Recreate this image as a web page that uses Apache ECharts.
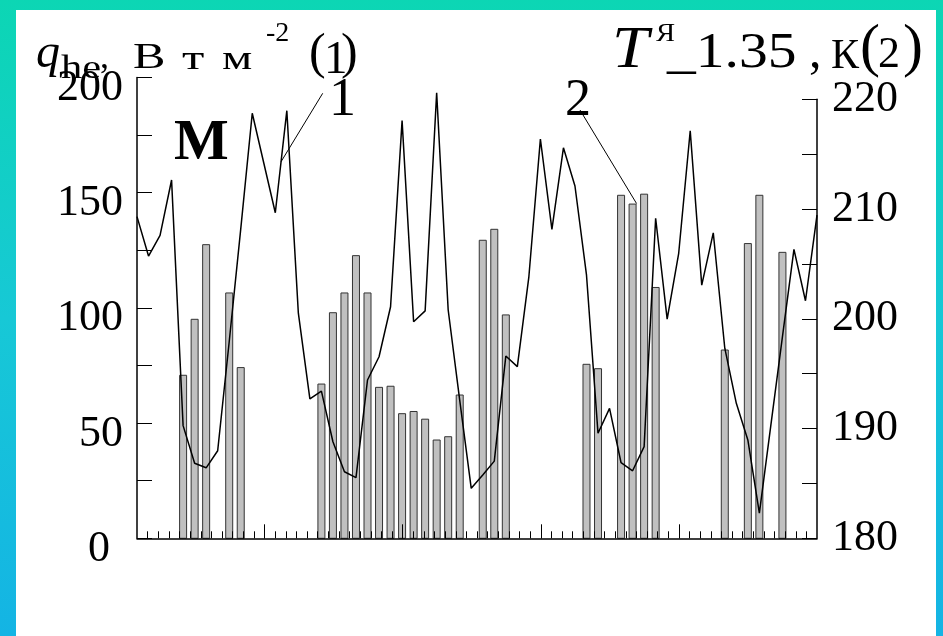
<!DOCTYPE html>
<html>
<head>
<meta charset="utf-8">
<script src="https://cdn.jsdelivr.net/npm/echarts@6/dist/echarts.min.js"></script>
<style>
html,body{margin:0;padding:0;background:#fff;}
#chart{width:943px;height:636px;}
</style>
</head>
<body>
<div id="chart"></div>
<script>
// ---- data ----
const categories = [1,2,3,4,5,6,7,8,9,10,11,12,13,14,15,16,17,18,19,20,21,22,23,24,25,26,27,28,29,30,
  31,32,33,34,35,36,37,38,39,40,41,42,43,44,45,46,47,48,49,50,51,52,53,54,55,56,57,58,59,60];
// series (1): heat flux q_he, W m^-2 (left axis)
const qHe = [139.6,122.5,131.5,155.5,48.9,32.6,30.6,38.0,85.3,134.2,
  184.5,162.9,141.3,185.6,97.7,60.5,63.9,41.9,28.9,26.3,
  68.7,78.8,100.5,181.3,94.0,98.7,193.4,99.1,60.0,21.7,
  27.5,33.5,79.1,74.5,113.5,173.3,134.1,169.5,152.9,114.3,
  45.6,56.4,32.8,29.3,39.8,138.9,95.1,123.7,176.9,109.9,
  132.6,82.5,58.6,42.7,10.9,49.2,87.4,125.4,103.1,140.3];
// series (2): temperature T, K (right axis); null = no bar
const tempT = [null,null,null,null,194.9,200.0,206.8,null,202.4,195.6,
  null,null,null,null,null,null,194.1,200.6,202.4,205.8,
  202.4,193.8,193.9,191.4,191.6,190.9,189.0,189.3,193.1,null,
  207.2,208.2,200.4,null,null,null,null,null,null,195.9,
  195.5,null,211.3,210.5,211.4,202.9,null,null,null,null,
  null,197.2,null,206.9,211.3,null,206.1,null,null,null];
const leftTicks = [0,50,100,150,200];
const rightTicks = [180,190,200,210,220];
const bottomMinorTicks = [1,2,3,4,5,6,7,8,9,10,11,12,13,14,15,16,17,18,19,20,21,22,23,24,25,26,27,28,29,30,31,32,
  33,34,35,36,37,38,39,40,41,42,43,44,45,46,47,48,49,50,51,52,53,54,55,56,57,58,59,60,61,62,63];
const bottomMajorTicks = [12,25,38,51];

const FONT = '"Liberation Serif","Times New Roman",serif';
const chart = echarts.init(document.getElementById('chart'), null, {renderer:'canvas'});

const G = {left:137, right:126, bottom:97.7, top:77.5};
const MINOR_LEN = 7, MAJOR_LEN = 14;

function tickAxis(gridIndex, values, len){
  return {type:'value', gridIndex:gridIndex, position:'bottom', min:0, max:64, z:5,
    axisLine:{show:false, onZero:false},
    axisTick:{show:true, inside:false, length:len, customValues:values, lineStyle:{color:'#000', width:1}},
    axisLabel:{show:false}, splitLine:{show:false}};
}

chart.setOption({
  animation:false,
  backgroundColor:'transparent',
  grid:[
    {left:G.left, right:G.right, top:G.top, bottom:G.bottom},
    {left:G.left, right:G.right, top:99.3, bottom:G.bottom},
    {left:G.left, right:G.right, top:G.top, bottom:G.bottom},
    {left:G.left, right:G.right, top:G.top, bottom:G.bottom + MINOR_LEN},
    {left:G.left, right:G.right, top:G.top, bottom:G.bottom + MAJOR_LEN}
  ],
  xAxis:[
    {type:'category', gridIndex:0, data:categories, boundaryGap:false, show:false},
    {type:'category', gridIndex:1, data:categories, boundaryGap:false, show:false},
    {type:'value', gridIndex:2, position:'bottom', min:0, max:64, z:5,
      axisLine:{show:true, onZero:false, lineStyle:{color:'#000', width:1.5}},
      axisTick:{show:false}, axisLabel:{show:false}, splitLine:{show:false}},
    tickAxis(3, bottomMinorTicks, MINOR_LEN),
    tickAxis(4, bottomMajorTicks, MAJOR_LEN)
  ],
  yAxis:[
    {type:'value', gridIndex:0, position:'left', min:0, max:200, interval:25, z:5,
      axisLine:{show:true, lineStyle:{color:'#000', width:1.5}},
      axisTick:{show:true, inside:true, length:15, lineStyle:{color:'#000', width:1}},
      splitLine:{show:false},
      axisLabel:{show:true, margin:14, color:'#000', fontFamily:FONT, fontSize:44, padding:[22,0,0,0],
        formatter:function(v){ if(leftTicks.indexOf(v)<0) return ''; return v===0 ? '{z|0}' : String(v); },
        rich:{z:{fontFamily:FONT, fontSize:44, color:'#000', padding:[0,13,0,0]}}}
    },
    {type:'value', gridIndex:1, position:'right', min:180, max:220, interval:5, z:5,
      axisLine:{show:true, lineStyle:{color:'#000', width:1.5}},
      axisTick:{show:true, inside:true, length:15, lineStyle:{color:'#000', width:1}},
      splitLine:{show:false},
      axisLabel:{show:true, margin:15, color:'#000', fontFamily:FONT, fontSize:44, padding:[22,0,0,0],
        formatter:function(v){ return rightTicks.indexOf(v)<0 ? '' : String(v); }}
    },
    {type:'value', gridIndex:2, min:0, max:1, show:false},
    {type:'value', gridIndex:3, min:0, max:1, show:false},
    {type:'value', gridIndex:4, min:0, max:1, show:false}
  ],
  series:[
    {name:'T', type:'bar', xAxisIndex:1, yAxisIndex:1, data:tempT, barWidth:8, clip:true, z:2,
      itemStyle:{color:'#c0c0c0', borderColor:'#333', borderWidth:1}},
    {name:'q_he', type:'line', xAxisIndex:0, yAxisIndex:0, data:qHe, symbol:'none', z:4,
      lineStyle:{color:'#000', width:1.5}}
  ]
});

function piece(text, x, baseline, size, opt){
  opt = opt || {};
  return {type:'text', x:x, y:baseline + 4 - 0.3375*size, scaleX:opt.sx||1, z:50,
    style:{text:text, fontFamily:FONT, fontSize:size, fontStyle:opt.italic?'italic':'normal',
      fontWeight:opt.bold?'bold':'normal', fill:'#000', align:'left', verticalAlign:'middle'}};
}

const pA = chart.convertToPixel({xAxisIndex:0, yAxisIndex:0}, [12, qHe[12]]);
const pB = chart.convertToPixel({xAxisIndex:0, yAxisIndex:0}, [13, qHe[13]]);
const p1 = [(pA[0]+pB[0])/2, (pA[1]+pB[1])/2];
const p2b = chart.convertToPixel({xAxisIndex:1, yAxisIndex:1}, [43, tempT[43]]);

chart.setOption({
  graphic:[
    {type:'rect', z:-20, silent:true, shape:{x:0,y:0,width:943,height:636},
      style:{fill:new echarts.graphic.LinearGradient(0,0,0,1,[
        {offset:0,color:'#0cd6b4'},{offset:0.5,color:'#17c8d6'},{offset:1,color:'#14b4e4'}])}},
    {type:'rect', z:-19, silent:true, shape:{x:16,y:10,width:920,height:626}, style:{fill:'#fff'}},
    // left title
    piece('q', 36, 67, 48, {italic:true}),
    piece('he', 61, 77, 34, {sx:1.25}),
    piece(',', 100, 67, 36),
    piece('В', 133, 67, 36, {sx:1.35}),
    piece('т', 182, 67, 33, {sx:1.55}),
    piece('м', 222, 67, 33, {sx:1.45}),
    piece('-2', 266, 39, 28),
    piece('(', 309, 67.7, 50),
    piece('1', 324, 73, 47),
    piece(')', 341, 67.7, 50),
    // right title
    piece('T', 612, 67, 60, {italic:true, sx:1.1}),
    piece('Я', 656, 39, 26, {sx:1.1}),
    piece('_1.35', 667, 67, 50, {sx:1.15}),
    piece(',', 809, 67, 50),
    piece('К', 831, 67, 42),
    piece('(', 860, 65.4, 60),
    piece('2', 878, 66.7, 44),
    piece(')', 903, 65.4, 60),
    // annotations
    piece('M', 174, 160, 58, {bold:true}),
    piece('1', 329, 115, 54),
    piece('2', 565, 115, 52),
    {type:'line', z:50, shape:{x1:322.7, y1:93.3, x2:p1[0], y2:p1[1]}, style:{stroke:'#000', lineWidth:1}},
    {type:'line', z:50, shape:{x1:580, y1:110, x2:p2b[0]+4, y2:p2b[1]}, style:{stroke:'#000', lineWidth:1}}
  ]
});
</script>
</body>
</html>
